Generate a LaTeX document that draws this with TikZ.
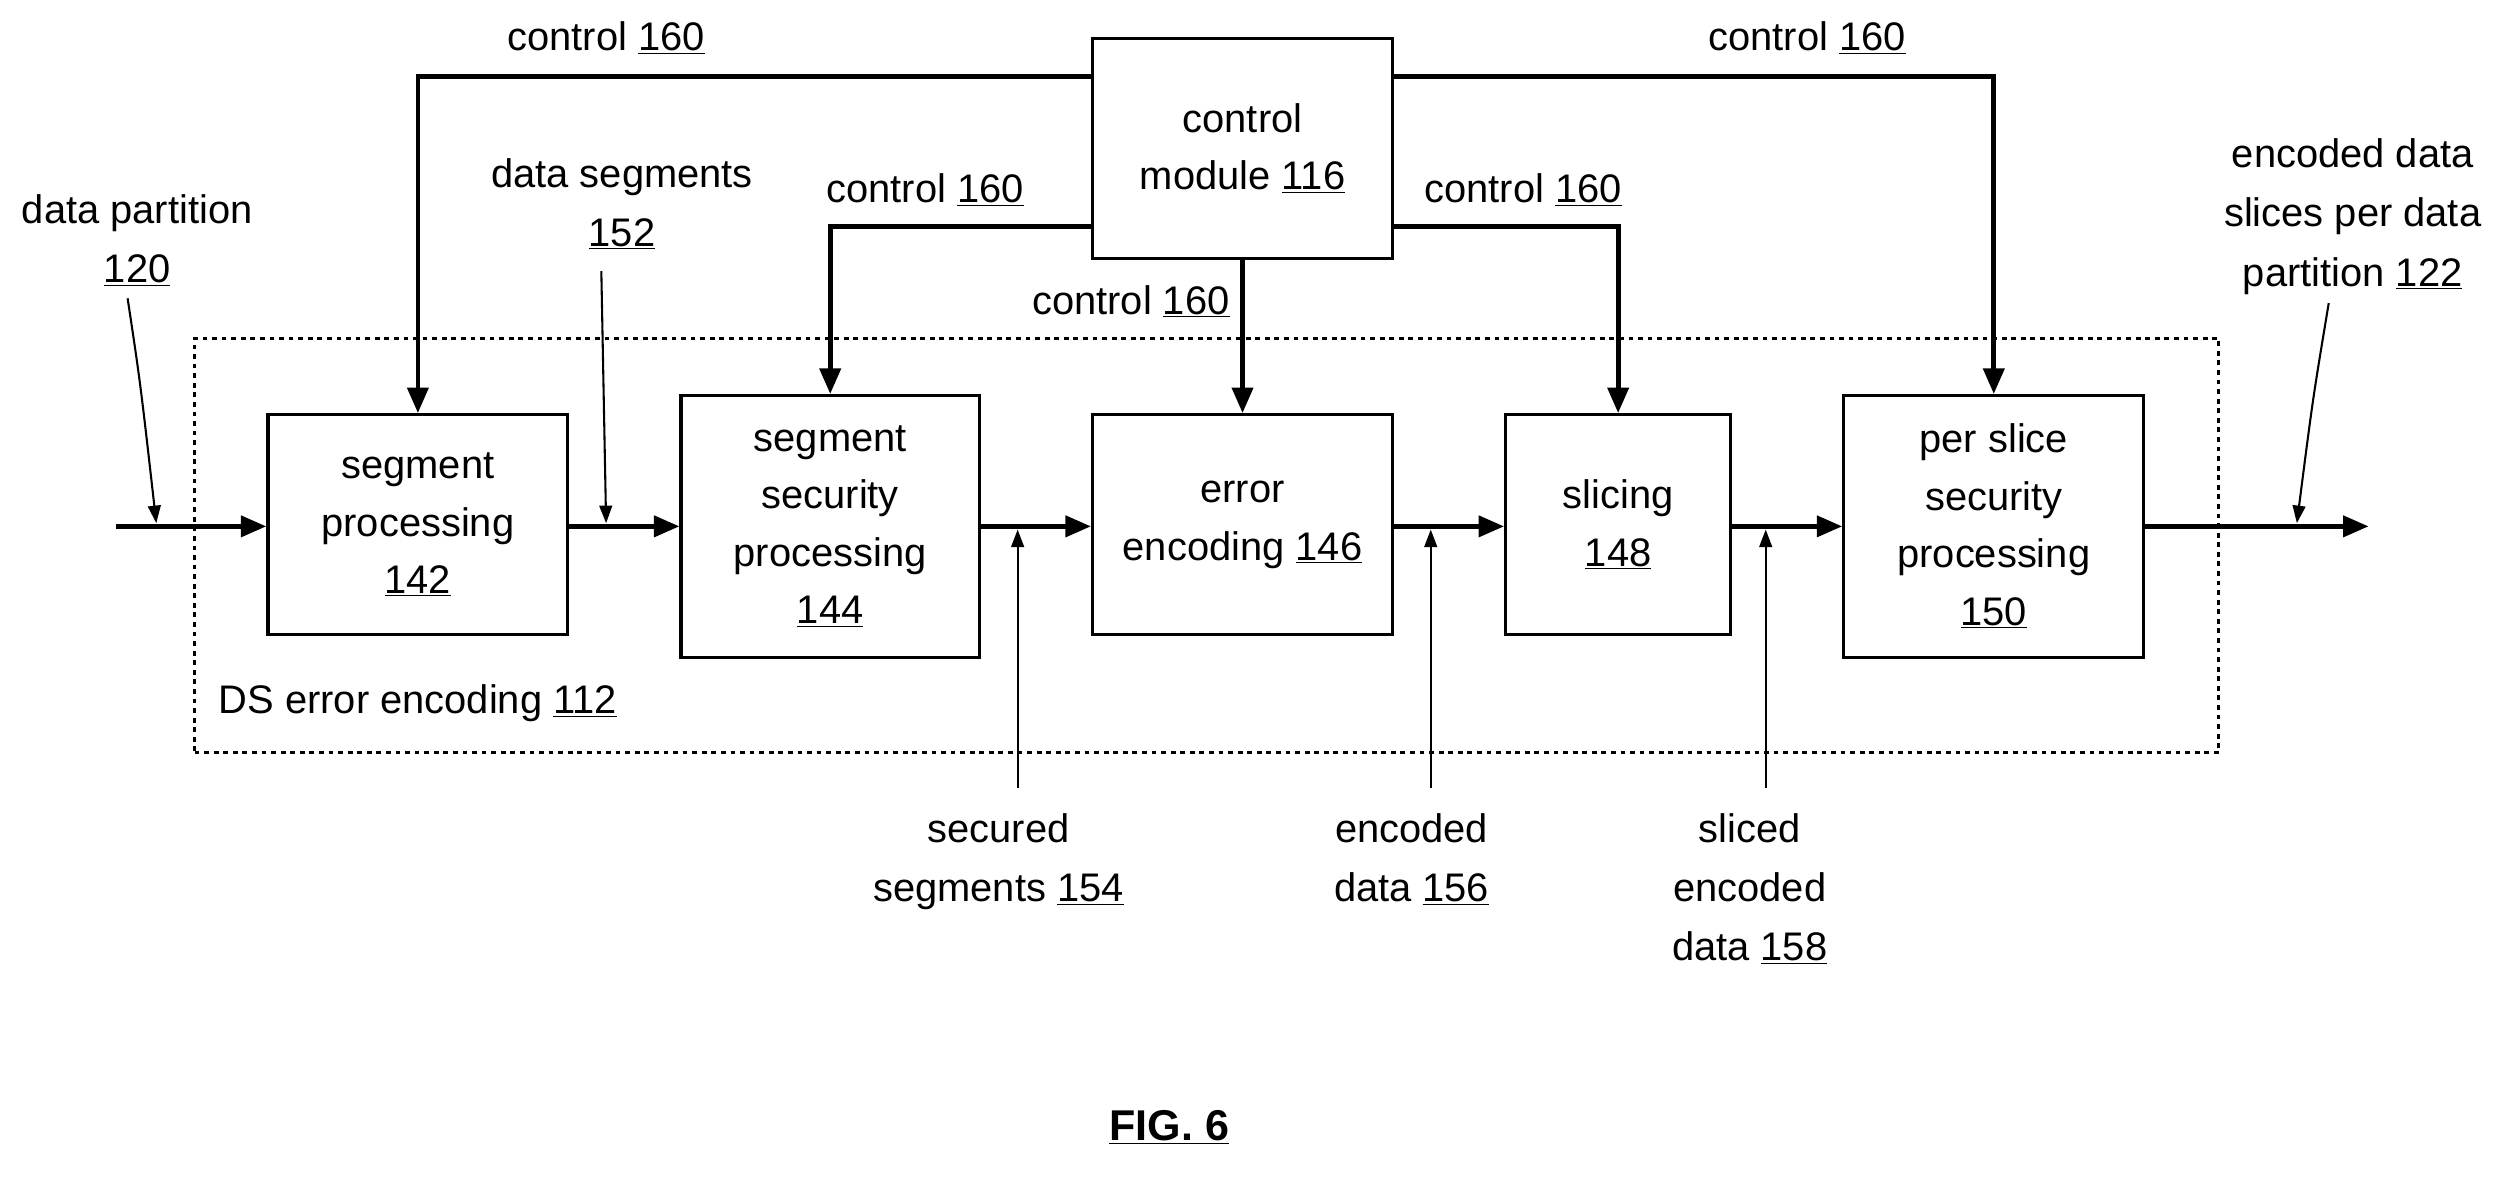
\documentclass[tikz,border=0pt]{standalone}
\usepackage{fontspec}
\setmainfont{Liberation Sans}
\usetikzlibrary{arrows.meta}
\begin{document}
\begin{tikzpicture}[x=1pt,y=-1pt,
  box/.style={draw,line width=2pt,inner sep=0pt,align=center,font=\fontsize{25}{36}\selectfont},
  lab/.style={align=center,font=\fontsize{25}{37}\selectfont,inner sep=0pt},
  thick arr/.style={line width=3pt,-{Triangle[length=16pt,width=13pt]}},
  thin arr/.style={line width=1.3pt,-{Triangle[length=11pt,width=8pt]}}]
\useasboundingbox (0,0) rectangle (1568,738);
\node[draw,dashed,line width=2pt,minimum width=1269pt,minimum height=260pt] (ds) at (756.5,342) {};
\node[box,minimum width=188pt,minimum height=138pt] (cm) at (779,93) {control\\module \underline{116}};
\node[box,minimum width=188pt,minimum height=138pt] (b142) at (262,329) {segment\\processing\\\underline{142}};
\node[box,minimum width=187pt,minimum height=164pt] (b144) at (520.5,330) {segment\\security\\processing\\\underline{144}};
\node[box,minimum width=188pt,minimum height=138pt] (b146) at (779,329) {error\\encoding \underline{146}};
\node[box,minimum width=141pt,minimum height=138pt] (b148) at (1014.5,329) {slicing\\\underline{148}};
\node[box,minimum width=188pt,minimum height=164pt] (b150) at (1250,330) {per slice\\security\\processing\\\underline{150}};
\coordinate (in) at (73,330);
\coordinate (out) at (1485,330);
\draw[thick arr] (in) -- (b142.west|-in);
\draw[thick arr] (b142.east|-in) -- (b144.west|-in);
\draw[thick arr] (b144.east|-in) -- (b146.west|-in);
\draw[thick arr] (b146.east|-in) -- (b148.west|-in);
\draw[thick arr] (b148.east|-in) -- (b150.west|-in);
\draw[thick arr] (b150.east|-in) -- (out);
% control lines
\draw[thick arr] (cm.west|-0,48) -| (b142.north);
\draw[thick arr] (cm.east|-0,48) -| (b150.north);
\draw[thick arr] (cm.west|-0,142) -| (b144.north);
\draw[thick arr] (cm.east|-0,142) -| (b148.north);
\draw[thick arr] (cm.south) -- (b146.north);
\node[lab] (c1) at (380,24) {control \underline{160}};
\node[lab] (c2) at (1133,24) {control \underline{160}};
\node[lab] (c3) at (580,119) {control \underline{160}};
\node[lab] (c4) at (955,119) {control \underline{160}};
\node[lab] (c5) at (709,189) {control \underline{160}};
\node[lab,anchor=north] (l120) at (86,122) {data partition\\\underline{120}};
\node[lab,anchor=north] (l152) at (390,99) {data segments\\\underline{152}};
\node[lab,anchor=north] (l154) at (626,510) {secured\\segments \underline{154}};
\node[lab,anchor=north] (l156) at (885,510) {encoded\\data \underline{156}};
\node[lab,anchor=north] (l158) at (1097,510) {sliced\\encoded\\data \underline{158}};
\node[lab,anchor=north] (l122) at (1475,87) {encoded data\\slices per data\\partition \underline{122}};
\node[lab] (l112) at (262,441) {DS error encoding \underline{112}};
\node[lab,font=\fontsize{27}{30}\selectfont\bfseries] (fig) at (733,707) {\underline{FIG. 6}};
\coordinate (p120) at (98,328);
\coordinate (p152) at (380,328);
\coordinate (p154) at (638,332);
\coordinate (p156) at (897,332);
\coordinate (p158) at (1107,332);
\coordinate (p122) at (1440,328);
\draw[thin arr] (80,187) .. controls (88,240) .. (p120);
\draw[thin arr] (377,170) -- (p152);
\draw[thin arr] (638,494) -- (p154);
\draw[thin arr] (897,494) -- (p156);
\draw[thin arr] (1107,494) -- (p158);
\draw[thin arr] (1460,190) .. controls (1450,250) .. (p122);
\end{tikzpicture}
\end{document}
